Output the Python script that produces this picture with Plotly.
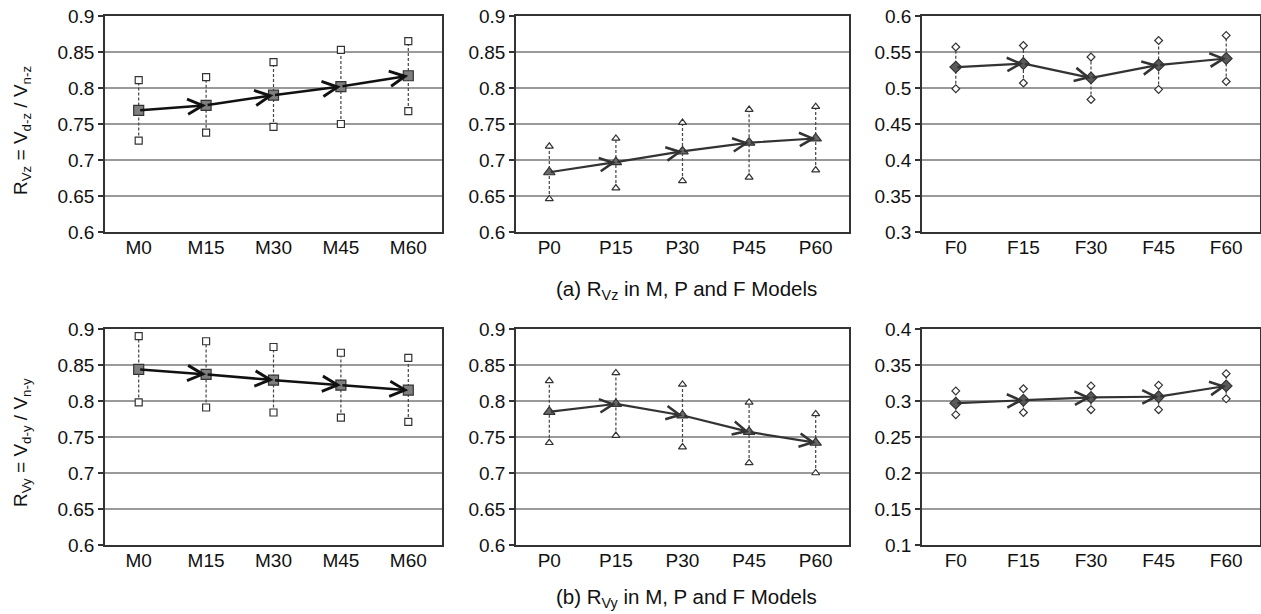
import plotly.graph_objects as go

# ---- data ----
cats_M = ["M0", "M15", "M30", "M45", "M60"]
cats_P = ["P0", "P15", "P30", "P45", "P60"]
cats_F = ["F0", "F15", "F30", "F45", "F60"]

vz_M_mean = [0.769, 0.776, 0.790, 0.802, 0.817]
vz_M_high = [0.811, 0.815, 0.836, 0.853, 0.865]
vz_M_low = [0.727, 0.738, 0.746, 0.750, 0.768]

vz_P_mean = [0.683, 0.697, 0.712, 0.724, 0.730]
vz_P_high = [0.719, 0.730, 0.752, 0.770, 0.774]
vz_P_low = [0.646, 0.661, 0.671, 0.676, 0.686]

vz_F_mean = [0.529, 0.534, 0.514, 0.532, 0.541]
vz_F_high = [0.557, 0.559, 0.543, 0.566, 0.573]
vz_F_low = [0.499, 0.507, 0.484, 0.498, 0.509]

vy_M_mean = [0.844, 0.837, 0.829, 0.822, 0.815]
vy_M_high = [0.890, 0.883, 0.875, 0.867, 0.860]
vy_M_low = [0.798, 0.791, 0.784, 0.777, 0.771]

vy_P_mean = [0.785, 0.796, 0.780, 0.757, 0.742]
vy_P_high = [0.828, 0.839, 0.823, 0.798, 0.782]
vy_P_low = [0.742, 0.752, 0.736, 0.714, 0.700]

vy_F_mean = [0.297, 0.301, 0.305, 0.306, 0.321]
vy_F_high = [0.314, 0.317, 0.321, 0.322, 0.338]
vy_F_low = [0.281, 0.284, 0.288, 0.288, 0.303]

y_ranges = [(0.6, 0.9), (0.6, 0.9), (0.3, 0.6), (0.6, 0.9), (0.6, 0.9), (0.1, 0.4)]

caption_a = "(a) R<sub>Vz</sub> in M, P and F Models"
caption_b = "(b) R<sub>Vy</sub> in M, P and F Models"
ytitle_a = "R<sub>Vz</sub> = V<sub>d-z</sub> / V<sub>n-z</sub>"
ytitle_b = "R<sub>Vy</sub> = V<sub>d-y</sub> / V<sub>n-y</sub>"

W, H = 1261, 614
FONT = "Liberation Sans, Arial, sans-serif"

panels = [
    (cats_M, vz_M_mean, vz_M_high, vz_M_low, "square", "#7f7f7f", "#111111", 2.5),
    (cats_P, vz_P_mean, vz_P_high, vz_P_low, "triangle-up", "#6a6a6a", "#333333", 2.2),
    (cats_F, vz_F_mean, vz_F_high, vz_F_low, "diamond", "#5a5a5a", "#333333", 2.2),
    (cats_M, vy_M_mean, vy_M_high, vy_M_low, "square", "#7f7f7f", "#111111", 2.5),
    (cats_P, vy_P_mean, vy_P_high, vy_P_low, "triangle-up", "#6a6a6a", "#333333", 2.2),
    (cats_F, vy_F_mean, vy_F_high, vy_F_low, "diamond", "#5a5a5a", "#333333", 2.2),
]

# pixel layout of plot areas (left, right, top, bottom)
cols_px = [(105, 442), (516, 849), (922, 1260)]
rows_px = [(16, 232), (329, 545)]

fig = go.Figure()
annotations = []
layout = dict(
    width=W, height=H, margin=dict(l=0, r=0, t=0, b=0, autoexpand=False),
    paper_bgcolor="white", plot_bgcolor="white", showlegend=False,
    font=dict(family=FONT, size=19, color="#111111"),
)

for i, (cats, mean, high, low, sym, fill, lcol, lw) in enumerate(panels):
    n = i + 1
    xa = "x" if n == 1 else f"x{n}"
    ya = "y" if n == 1 else f"y{n}"
    xkey = "xaxis" if n == 1 else f"xaxis{n}"
    ykey = "yaxis" if n == 1 else f"yaxis{n}"
    c0, c1 = cols_px[i % 3]
    r0, r1 = rows_px[i // 3]
    layout[xkey] = dict(
        domain=[c0 / W, c1 / W], anchor=ya, type="category", automargin=False,
        range=[-0.5, 4.5], showgrid=False, showline=True, mirror=True,
        linecolor="#333333", linewidth=1.5, ticks="", ticklabelstandoff=-3,
        tickfont=dict(size=19, family=FONT, color="#111111"), fixedrange=True,
    )
    yr = y_ranges[i]
    layout[ykey] = dict(
        domain=[1 - r1 / H, 1 - r0 / H], anchor=xa, range=list(yr),
        automargin=False,
        dtick=0.05, showgrid=True, gridcolor="#9a9a9a", gridwidth=1.6,
        showline=True, mirror=True, linecolor="#333333", linewidth=1.5,
        ticks="outside", ticklen=5, tickcolor="#333333", tickwidth=1.5,
        tickfont=dict(size=19, family=FONT, color="#111111"),
        zeroline=False, fixedrange=True,
    )

    # dashed ranges
    xs, ys = [], []
    for c, lo, hi in zip(cats, low, high):
        xs += [c, c, None]
        ys += [lo, hi, None]
    fig.add_trace(go.Scatter(
        x=xs, y=ys, mode="lines", xaxis=xa, yaxis=ya,
        line=dict(color="#444444", width=1.2, dash="3px,2px"), hoverinfo="skip",
    ))
    msz = 7 if sym != "diamond" else 6
    # high / low hollow markers
    fig.add_trace(go.Scatter(
        x=cats + cats, y=high + low, mode="markers", xaxis=xa, yaxis=ya,
        marker=dict(symbol=sym, size=msz, color="white",
                    line=dict(color="#333333", width=1.2)),
    ))
    # mean markers
    fig.add_trace(go.Scatter(
        x=cats, y=mean, mode="markers", xaxis=xa, yaxis=ya,
        marker=dict(symbol=sym, size=10 if sym != "diamond" else 9, color=fill,
                    line=dict(color="#333333", width=1.2)),
    ))
    # arrows between means
    for j in range(1, len(mean)):
        annotations.append(dict(
            x=j, y=mean[j], ax=j - 1, ay=mean[j - 1],
            xref=xa, yref=ya, axref=xa, ayref=ya, text="",
            showarrow=True, arrowhead=5, arrowsize=1.2, arrowwidth=lw,
            arrowcolor=lcol, standoff=0,
        ))

# y-axis titles
annotations.append(dict(
    text=ytitle_a,
    x=22 / W, y=1 - 131 / H, xref="paper", yref="paper", textangle=-90,
    showarrow=False, xanchor="center", yanchor="middle",
    font=dict(size=19, family=FONT, color="#111111"),
))
annotations.append(dict(
    text=ytitle_b,
    x=22 / W, y=1 - 443 / H, xref="paper", yref="paper", textangle=-90,
    showarrow=False, xanchor="center", yanchor="middle",
    font=dict(size=19, family=FONT, color="#111111"),
))
# captions
annotations.append(dict(
    text=caption_a,
    x=687 / W, y=1 - 290 / H, xref="paper", yref="paper",
    showarrow=False, xanchor="center", yanchor="middle",
    font=dict(size=20.5, family=FONT, color="#111111"),
))
annotations.append(dict(
    text=caption_b,
    x=687 / W, y=1 - 598 / H, xref="paper", yref="paper",
    showarrow=False, xanchor="center", yanchor="middle",
    font=dict(size=20.5, family=FONT, color="#111111"),
))

layout["annotations"] = annotations
fig.update_layout(**layout)
fig.write_html("out.html")
